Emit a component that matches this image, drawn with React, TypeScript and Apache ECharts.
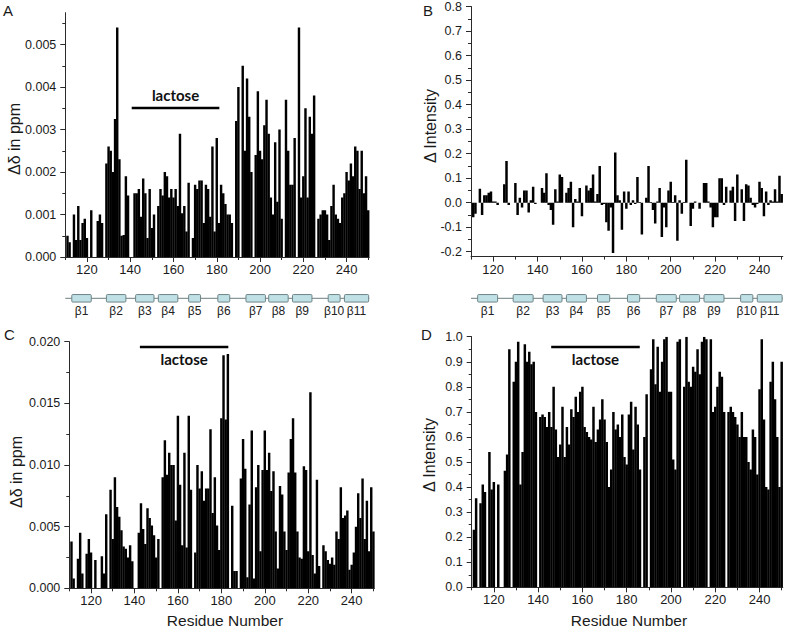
import React, { useEffect, useRef } from "react";
import * as echarts from "echarts";

const FIRST_RESIDUE = 111;
const _ = null;

// Panel A: chemical shift perturbation (ppm), residues 111-250
const shiftA: (number | null)[] = [
  0.0005, 0.00035, _, 0.001, 0.0004, 0.0012, 0.0004, 0.0008, 0.0009, 0.00045,
  _, 0.0011, _, _, 0.00085, 0.001, 0.0008, _, 0.0022, 0.0026,
  0.0025, 0.002, 0.00325, 0.0054, 0.0023, 0.0005, 0.00052, 0.0019, 0.00145, _,
  _, 0.0015, 0.0015, 0.0016, 0.00095, 0.00185, 0.0015, 0.00045, 0.0016, 0.00068,
  0.001, _, 0.0012, 0.0016, 0.00145, 0.002, 0.0019, 0.0014, 0.0016, 0.0014,
  0.0016, 0.0012, 0.0029, 0.00103, 0.0012, 0.0006, 0.00175, _, 0.00045, 0.0017,
  0.0016, 0.0018, 0.0018, 0.0008, 0.0017, 0.0016, 0.00095, 0.0026, 0.0006, 0.0028,
  0.0008, 0.0017, 0.0015, 0.00125, 0.001, 0.001, 0.0008, _, 0.0032, 0.004,
  _, 0.0045, 0.0025, 0.0042, 0.0033, 0.002, _, 0.0024, 0.0039, 0.0025,
  0.0023, 0.0031, 0.0037, 0.0029, 0.0014, 0.001, 0.0027, 0.0013, 0.003, 0.0009,
  _, 0.0037, 0.0025, 0.0017, 0.0017, 0.0028, _, 0.0054, 0.0014, 0.0019,
  0.0035, 0.0014, 0.0033, 0.0029, 0.0038, _, 0.0009, 0.001, 0.0011, 0.0011,
  0.001, 0.0004, 0.0012, 0.0017, 0.001, 0.0009, 0.0008, 0.0014, 0.0015, 0.002,
  0.0018, 0.0022, 0.0019, 0.0026, 0.0025, 0.0016, 0.0025, 0.0015, 0.0019, 0.0011,
];

// Panel B: intensity change, residues 111-250
const intensityB: (number | null)[] = [
  -0.06, -0.045, _, 0.057, -0.05, 0.03, 0.03, 0.04, 0.045, 0.005,
  0.005, -0.01, _, _, 0.075, 0.17, -0.01, _, _, 0.08,
  -0.05, 0.02, -0.02, 0.05, 0.05, -0.04, 0.01, 0.065, -0.005, _,
  _, 0.06, 0.04, 0.12, -0.01, -0.03, -0.09, 0.055, 0.005, 0.115,
  0.105, _, 0.04, 0.06, 0.085, -0.1, 0.015, 0.005, 0.06, -0.055,
  _, 0.07, 0.05, 0.06, 0.115, 0.005, 0.035, 0.15, -0.01, -0.005,
  -0.08, -0.115, -0.02, -0.205, 0.205, 0.03, 0.01, -0.11, 0.045, -0.025,
  0.045, -0.01, 0.01, -0.005, 0.105, 0.003, -0.13, _, 0.02, 0.15,
  0.003, -0.03, -0.085, 0.005, 0.06, -0.14, -0.02, -0.1, 0.05, 0.085,
  0.003, 0.03, -0.155, 0.01, -0.045, 0.003, 0.175, _, -0.095, -0.025,
  0.005, _, -0.025, _, 0.08, 0.08, 0.005, -0.02, -0.1, -0.06,
  -0.06, 0.1, 0.1, -0.01, 0.065, _, 0.05, 0.065, -0.075, 0.115,
  _, 0.055, -0.075, 0.075, 0.07, 0.02, -0.01, -0.02, -0.005, 0.085,
  0.06, -0.055, 0.045, -0.01, 0.01, 0.005, 0.055, 0.005, 0.11, 0.035,
];

// Panel C: chemical shift perturbation (ppm), residues 111-250
const shiftC: (number | null)[] = [
  0.0038, 0.0008, _, 0.0024, 0.0045, 0.0012, _, 0.0028, 0.004, 0.0029,
  _, 0.0023, _, _, 0.0026, 0.0012, 0.006, _, 0.008, 0.004,
  0.009, 0.0066, 0.0058, 0.0047, 0.0034, 0.0032, 0.0025, 0.0035, 0.0022, _,
  _, 0.0045, 0.0069, 0.0048, 0.0036, 0.0065, 0.0057, 0.0051, 0.0043, 0.0025,
  0.004, _, 0.009, 0.012, 0.0092, 0.011, 0.01, 0.01, 0.0055, 0.014,
  0.0084, 0.0035, 0.011, 0.0033, 0.014, 0.008, _, 0.0029, 0.01, 0.0081,
  0.0095, 0.0071, 0.0081, 0.0081, 0.0129, 0.0061, 0.009, 0.0051, 0.0031, 0.0138,
  0.0189, 0.0137, 0.019, _, 0.0067, 0.0014, 0.0014, _, 0.0089, 0.0121,
  0.0097, 0.0009, 0.0068, 0.0128, 0.0008, 0.0082, 0.01, 0.003, 0.0096, 0.0128,
  0.0096, 0.011, 0.0079, 0.0095, 0.0046, 0.0016, 0.0083, 0.0076, 0.0046, 0.0031,
  0.0094, 0.0121, 0.0138, 0.0094, 0.0046, 0.0025, 0.0024, 0.0099, 0.0096, 0.003,
  0.0159, 0.0027, 0.0012, 0.0088, 0.0018, _, 0.0035, 0.003, 0.0023, 0.002,
  0.0025, 0.0019, 0.0046, 0.004, 0.0082, 0.0057, 0.0059, 0.0063, 0.0015, 0.0019,
  0.0029, 0.005, 0.0077, 0.0057, 0.0089, 0.004, 0.0071, 0.003, 0.0082, 0.0046,
];

// Panel D: intensity change, residues 111-250
const intensityD: (number | null)[] = [
  0.23, 0.355, _, 0.335, 0.41, 0.38, _, 0.54, 0.39, 0.42,
  _, 0.41, _, _, 0.465, 0.53, 0.95, _, 0.82, 0.9,
  0.98, 0.41, 0.54, 0.97, 0.9, 0.94, 0.89, 0.9, 0.7, _,
  0.68, 0.69, 0.68, 0.64, 0.7, 0.64, 0.8, 0.63, 0.52, 0.57,
  0.72, 0.52, 0.64, 0.57, 0.71, 0.68, 0.76, 0.7, 0.78, 0.8,
  0.64, 0.62, 0.6, 0.59, 0.72, 0.58, 0.63, 0.67, 0.75, 0.67,
  0.58, 0.4, 0.47, 0.7, 0.63, 0.65, 0.6, 0.69, 0.52, 0.49,
  0.69, 0.74, 0.55, 0.72, 0.65, 0.47, _, 0.6, 0.77, _,
  0.87, 0.99, 0.81, 0.96, 0.78, 0.9, 0.99, 1.0, 0.78, 0.78,
  0.51, 0.47, 0.98, 0.99, _, 0.8, 1.0, 0.82, 0.8, 0.88,
  0.86, 0.95, 0.85, 0.98, 1.0, 0.99, _, 0.99, 0.7, 0.72,
  0.8, 0.86, 0.84, 0.7, _, 0.7, 0.72, 0.7, 0.68, 0.65,
  0.6, 0.7, 0.6, 0.6, 0.5, 0.47, 0.63, 0.6, 0.45, 0.79,
  0.99, 0.67, 0.4, 0.39, 0.82, 0.9, 0.75, 0.6, 0.4, 0.9,
];

// Beta-strand topology (residue ranges)
const strandNames = ["β1", "β2", "β3", "β4", "β5", "β6", "β7", "β8", "β9", "β10", "β11"];
const strandStart = [113, 129, 142.5, 153, 167, 180.5, 193.5, 204, 215, 231.5, 239];
const strandEnd = [122, 138, 151, 162, 172.5, 186, 202.5, 213, 224, 237, 250.2];
const chainSpan = [110, 250.5];

// Lactose-binding region annotations [from, to, level]
const lactoseA = [140.7, 181.2, 0.00352];
const lactoseC = [142.5, 183.2, 0.01955];
const lactoseD = [145.9, 185.9, 0.958];

// Tick values
const residueLabelTicks = [120, 140, 160, 180, 200, 220, 240];
const residueMinorTicks = [110, 130, 150, 170, 190, 210, 230, 250];
const ticksA = [0, 0.001, 0.002, 0.003, 0.004, 0.005];
const minorA = [0.0005, 0.0015, 0.0025, 0.0035, 0.0045, 0.0055];
const ticksB = [-0.2, -0.1, 0, 0.1, 0.2, 0.3, 0.4, 0.5, 0.6, 0.7, 0.8];
const minorB = [-0.15, -0.05, 0.05, 0.15, 0.25, 0.35, 0.45, 0.55, 0.65, 0.75];
const ticksC = [0, 0.005, 0.01, 0.015, 0.02];
const minorC = [0.0025, 0.0075, 0.0125, 0.0175];
const ticksD = [0, 0.1, 0.2, 0.3, 0.4, 0.5, 0.6, 0.7, 0.8, 0.9, 1.0];
const minorD = [0.05, 0.15, 0.25, 0.35, 0.45, 0.55, 0.65, 0.75, 0.85, 0.95];

const FONT = "'Liberation Sans', Arial, Helvetica, sans-serif";
const INK = "#1a1a1a";
const AXIS = "#2a2a2a";
const BAR_SPAN = 1.12; // bar width in residue units (bars abut, as in the original)

function toPairs(values: (number | null)[]) {
  return values.map((v, i) => [FIRST_RESIDUE + i, v]);
}

function residueAxes(gridIndex: number) {
  const base = {
    type: "value",
    gridIndex,
    min: 110,
    max: 250.5,
    position: "bottom",
    splitLine: { show: false },
  };
  return [
    {
      ...base,
      axisLine: { onZero: false, lineStyle: { color: AXIS, width: 1 } },
      axisTick: { show: true, customValues: residueLabelTicks, length: 5, lineStyle: { color: AXIS } },
      axisLabel: {
        show: true,
        customValues: residueLabelTicks,
        fontSize: 13,
        fontFamily: FONT,
        color: INK,
        margin: 6,
      },
    },
    {
      ...base,
      axisLine: { show: false, onZero: false },
      axisTick: { show: true, customValues: residueMinorTicks, length: 3, lineStyle: { color: AXIS } },
      axisLabel: { show: false },
    },
  ];
}

function valueAxes(gridIndex: number, min: number, max: number, major: number[], minor: number[], digits: number) {
  const base = {
    type: "value",
    gridIndex,
    min,
    max,
    position: "left",
    splitLine: { show: false },
  };
  return [
    {
      ...base,
      axisLine: { show: true, onZero: false, lineStyle: { color: AXIS, width: 1 } },
      axisTick: { show: true, customValues: major, length: 5, lineStyle: { color: AXIS } },
      axisLabel: {
        show: true,
        customValues: major,
        formatter: (v: number) => v.toFixed(digits),
        fontSize: 12.5,
        fontFamily: FONT,
        color: INK,
        margin: 9,
      },
    },
    {
      ...base,
      axisLine: { show: false, onZero: false },
      axisTick: { show: true, customValues: minor, length: 3, lineStyle: { color: AXIS } },
      axisLabel: { show: false },
    },
  ];
}

function lactoseSeries(spec: number[], axisIndex: number, above: boolean) {
  return {
    type: "line",
    xAxisIndex: axisIndex,
    yAxisIndex: axisIndex,
    data: [],
    silent: true,
    markLine: {
      silent: true,
      symbol: ["none", "none"],
      animation: false,
      lineStyle: { color: "#000", width: 2.4, type: "solid" },
      label: {
        show: true,
        position: above ? "insideMiddleTop" : "insideMiddleBottom",
        formatter: "lactose",
        fontFamily: "Lato, 'Open Sans', sans-serif",
        fontWeight: "bold",
        fontSize: 15,
        color: "#111",
        distance: above ? 5 : 4,
      },
      emphasis: { disabled: true },
      data: [[{ coord: [spec[0], spec[2]] }, { coord: [spec[1], spec[2]] }]],
    },
  };
}

function barSeries(values: (number | null)[], axisIndex: number) {
  return {
    type: "custom",
    xAxisIndex: axisIndex,
    yAxisIndex: axisIndex,
    data: toPairs(values),
    clip: true,
    silent: true,
    encode: { x: 0, y: 1 },
    renderItem: (params: any, api: any) => {
      const r = api.value(0);
      const v = api.value(1);
      if (v === null || v === undefined || isNaN(v)) return null;
      const p0 = api.coord([r - BAR_SPAN / 2, v]);
      const p1 = api.coord([r + BAR_SPAN / 2, 0]);
      return {
        type: "rect",
        shape: {
          x: p0[0],
          y: Math.min(p0[1], p1[1]),
          width: p1[0] - p0[0],
          height: Math.abs(p1[1] - p0[1]),
        },
        style: { fill: "#000" },
      };
    },
  };
}

function strandSeries(axisIndex: number) {
  return [
    {
      type: "line",
      xAxisIndex: axisIndex,
      yAxisIndex: axisIndex,
      data: [
        [chainSpan[0], 0],
        [chainSpan[1], 0],
      ],
      symbol: "none",
      lineStyle: { color: "#8a9799", width: 1.3 },
      silent: true,
      z: 1,
    },
    {
      type: "custom",
      xAxisIndex: axisIndex,
      yAxisIndex: axisIndex,
      silent: true,
      z: 2,
      data: strandStart.map((s, i) => [s, strandEnd[i]]),
      renderItem: (params: any, api: any) => {
        const a = api.coord([api.value(0), 0]);
        const b = api.coord([api.value(1), 0]);
        const h = 7.5;
        return {
          type: "group",
          children: [
            {
              type: "rect",
              shape: { x: a[0], y: a[1] - h / 2, width: b[0] - a[0], height: h, r: 1 },
              style: { fill: "#bfe1e6", stroke: "#6f8487", lineWidth: 1 },
            },
            {
              type: "text",
              style: {
                text: strandNames[params.dataIndex],
                x: (a[0] + b[0]) / 2,
                y: a[1] + h / 2 + 2.5,
                align: "center",
                verticalAlign: "top",
                fontSize: 12,
                fontFamily: FONT,
                fill: "#222",
              },
            },
          ],
        };
      },
    },
  ];
}

function hiddenAxes(gridIndex: number, kind: "x" | "y") {
  return kind === "x"
    ? { type: "value", gridIndex, min: 110, max: 250.5, show: false }
    : { type: "value", gridIndex, min: -1, max: 1, show: false };
}

export default function App() {
  const ref = useRef<HTMLDivElement>(null);

  useEffect(() => {
    if (!ref.current) return;
    const chart = echarts.init(ref.current, undefined, { renderer: "svg" });

    const grids = [
      { left: 65.3, top: 12.7, width: 304.0, height: 244.3 },
      { left: 471, top: 5, width: 311.8, height: 251.6 },
      { left: 69.3, top: 341.7, width: 305.2, height: 246.6 },
      { left: 471.7, top: 336.7, width: 311.1, height: 250.6 },
      { left: 65.3, top: 288.3, width: 304.0, height: 20 },
      { left: 471, top: 288.3, width: 311.8, height: 20 },
    ];

    const xAxis = [
      ...residueAxes(0),
      ...residueAxes(1),
      ...residueAxes(2),
      ...residueAxes(3),
      hiddenAxes(4, "x"),
      hiddenAxes(5, "x"),
    ];
    const yAxis = [
      ...valueAxes(0, 0, 0.00575, ticksA, minorA, 3),
      ...valueAxes(1, -0.22, 0.8, ticksB, minorB, 1),
      ...valueAxes(2, 0, 0.02, ticksC, minorC, 3),
      ...valueAxes(3, 0, 1.0, ticksD, minorD, 1),
      hiddenAxes(4, "y"),
      hiddenAxes(5, "y"),
    ];

    const titleStyle = { fontSize: 16, fontFamily: FONT, fill: INK };
    const panelLetter = (t: string, x: number, y: number) => ({
      type: "text",
      x,
      y,
      style: { text: t, fontSize: 15, fontFamily: FONT, fill: INK, align: "left", verticalAlign: "top" },
    });
    const yTitle = (t: string, x: number, y: number) => ({
      type: "text",
      x,
      y,
      rotation: Math.PI / 2,
      style: { text: t, ...titleStyle, align: "center", verticalAlign: "middle" },
    });
    const xTitle = (t: string, x: number, y: number) => ({
      type: "text",
      x,
      y,
      style: { text: t, fontSize: 15.5, fontFamily: FONT, fill: INK, align: "center", verticalAlign: "middle" },
    });

    chart.setOption({
      animation: false,
      grid: grids,
      xAxis,
      yAxis,
      series: [
        barSeries(shiftA, 0),
        barSeries(intensityB, 2),
        barSeries(shiftC, 4),
        barSeries(intensityD, 6),
        lactoseSeries(lactoseA, 0, true),
        lactoseSeries(lactoseC, 4, false),
        lactoseSeries(lactoseD, 6, false),
        ...strandSeries(8),
        ...strandSeries(9),
      ],
      graphic: [
        panelLetter("A", 3, 3),
        panelLetter("B", 423, 3),
        panelLetter("C", 4, 327),
        panelLetter("D", 421, 327),
        yTitle("Δδ in ppm", 14, 139),
        yTitle("Δ Intensity", 430, 126),
        yTitle("Δδ in ppm", 16, 472),
        yTitle("Δ Intensity", 429, 455),
        xTitle("Residue Number", 225, 620),
        xTitle("Residue Number", 629, 620),
      ],
    });

    return () => chart.dispose();
  }, []);

  return (
    <div
      ref={ref}
      style={{ position: "absolute", left: 0, top: 0, width: 790, height: 632, background: "#fff" }}
    />
  );
}
